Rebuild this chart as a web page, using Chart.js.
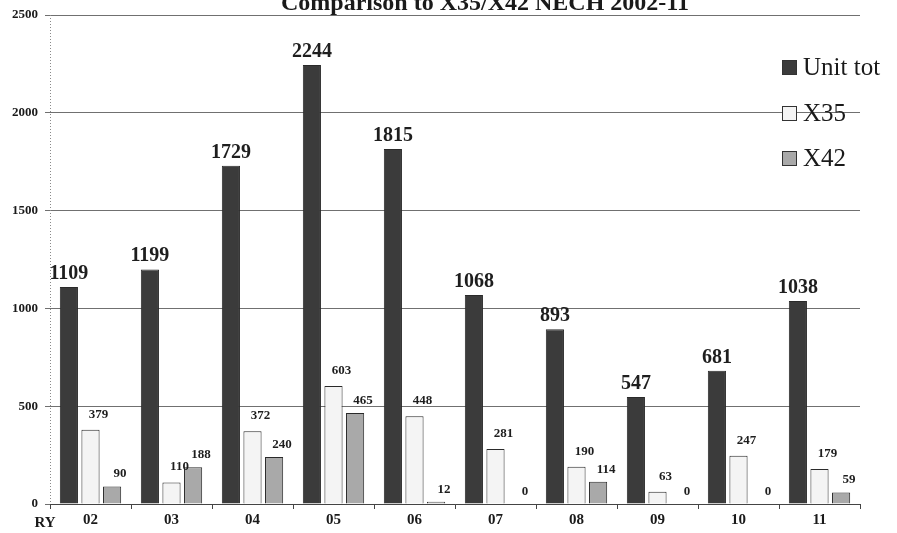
<!DOCTYPE html>
<html>
<head>
<meta charset="utf-8">
<script src="https://cdn.jsdelivr.net/npm/chart.js@4"></script>
<style>
  html, body { margin: 0; padding: 0; background: #fff; }
  #wrap { width: 897px; height: 533px; }
</style>
</head>
<body>
<div id="wrap"><canvas id="chart" width="897" height="533"></canvas></div>
<script>
// ----- data -----
const years = ['02', '03', '04', '05', '06', '07', '08', '09', '10', '11'];
const unitTot = [1109, 1199, 1729, 2244, 1815, 1068, 893, 547, 681, 1038];
const x35 = [379, 110, 372, 603, 448, 281, 190, 63, 247, 179];
const x42 = [90, 188, 240, 465, 12, 0, 114, 0, 0, 59];
const yTicks = [0, 500, 1000, 1500, 2000, 2500];
const titleText = 'Comparison to X35/X42 NECH 2002-11';

const serif = '"Liberation Serif", "DejaVu Serif", serif';

// ----- small plugins -----
const barLabels = {
  id: 'barLabels',
  afterDatasetsDraw(chart) {
    const ctx = chart.ctx;
    const styles = [
      { font: 'bold 20px ' + serif, dx: 0, dy: -8 },
      { font: 'bold 13px ' + serif, dx: 8, dy: -12 },
      { font: 'bold 13px ' + serif, dx: 8, dy: -9 }
    ];
    ctx.save();
    ctx.fillStyle = '#1e1e1e';
    ctx.textAlign = 'center';
    ctx.textBaseline = 'alphabetic';
    chart.data.datasets.forEach((ds, i) => {
      const meta = chart.getDatasetMeta(i);
      const s = styles[i];
      ctx.font = s.font;
      meta.data.forEach((bar, j) => {
        ctx.fillText(String(ds.data[j]), bar.x + s.dx, bar.y + s.dy);
      });
    });
    ctx.restore();
  }
};

const extras = {
  id: 'extras',
  beforeDatasetsDraw(chart) {
    // dotted value axis line
    const ctx = chart.ctx;
    const a = chart.chartArea;
    ctx.save();
    ctx.strokeStyle = '#8a8a8a';
    ctx.lineWidth = 1;
    ctx.setLineDash([1, 2]);
    ctx.beginPath();
    ctx.moveTo(a.left + 0.5, a.top);
    ctx.lineTo(a.left + 0.5, a.bottom);
    ctx.stroke();
    ctx.restore();
  },
  afterDraw(chart) {
    const ctx = chart.ctx;
    ctx.save();
    // title, cut at top edge like the scan
    ctx.fillStyle = '#1a1a1a';
    ctx.font = 'bold 24px ' + serif;
    ctx.textAlign = 'center';
    ctx.textBaseline = 'alphabetic';
    ctx.fillText(titleText, 485, 10);

    // axis caption
    ctx.font = 'bold 15px ' + serif;
    ctx.fillText('RY', 45, 527);

    // legend inside plot
    ctx.textAlign = 'left';
    ctx.textBaseline = 'middle';
    ctx.font = '25px ' + serif;
    const ys = [67, 113, 158];
    chart.data.datasets.forEach((ds, i) => {
      const y = ys[i];
      ctx.fillStyle = ds.backgroundColor;
      ctx.fillRect(782, y - 7, 14, 14);
      ctx.strokeStyle = '#333';
      ctx.lineWidth = 1;
      ctx.strokeRect(782.5, y - 6.5, 14, 14);
      ctx.fillStyle = '#1a1a1a';
      ctx.fillText(ds.label, 803, y + 1);
    });
    ctx.restore();
  }
};

// ----- chart -----
const ctx = document.getElementById('chart').getContext('2d');
new Chart(ctx, {
  type: 'bar',
  data: {
    labels: years,
    datasets: [
      {
        label: 'Unit tot',
        data: unitTot,
        backgroundColor: '#3b3b3b',
        borderColor: '#2a2a2a',
        borderWidth: 1
      },
      {
        label: 'X35',
        data: x35,
        backgroundColor: '#f4f4f4',
        borderColor: '#2a2a2a',
        borderWidth: 1
      },
      {
        label: 'X42',
        data: x42,
        backgroundColor: '#a9a9a9',
        borderColor: '#2a2a2a',
        borderWidth: 1
      }
    ]
  },
  options: {
    responsive: false,
    animation: false,
    devicePixelRatio: 1,
    layout: { padding: { top: 15, right: 37, left: 0, bottom: 0 } },
    datasets: {
      bar: { categoryPercentage: 0.8, barPercentage: 0.84 }
    },
    scales: {
      x: {
        afterFit: (axis) => { axis.height = 29; },
        grid: {
          display: true,
          drawOnChartArea: false,
          drawTicks: true,
          tickLength: 5,
          color: '#444'
        },
        border: { display: true, color: '#444', width: 1 },
        ticks: {
          color: '#1a1a1a',
          padding: 2,
          font: { family: serif, size: 15, weight: 'bold' }
        }
      },
      y: {
        min: 0,
        max: 2500,
        afterFit: (axis) => { axis.width = 50; },
        afterBuildTicks: (axis) => { axis.ticks = yTicks.map(v => ({ value: v })); },
        grid: {
          color: '#707070',
          lineWidth: 1,
          tickLength: 5
        },
        border: { display: false },
        ticks: {
          color: '#1a1a1a',
          padding: 7,
          font: { family: serif, size: 13, weight: 'bold' },
          callback: (v) => String(v)
        }
      }
    },
    plugins: {
      legend: { display: false },
      tooltip: { enabled: false },
      title: { display: false }
    }
  },
  plugins: [barLabels, extras]
});
</script>
</body>
</html>
